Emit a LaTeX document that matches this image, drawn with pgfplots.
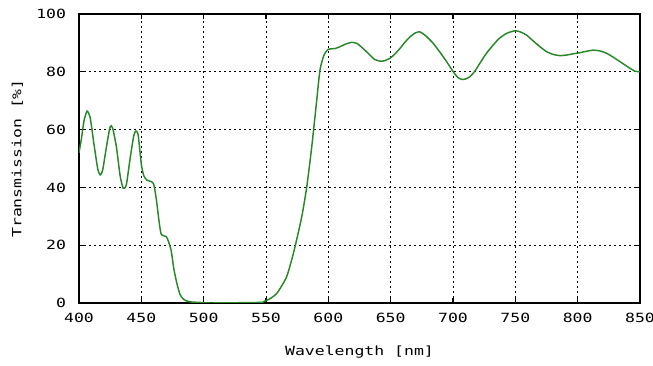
\documentclass[border=0pt]{standalone}
\usepackage{fontspec}
\setmainfont[FakeStretch=1.3]{DejaVu Sans Mono}
\usepackage{pgfplots}
\pgfplotsset{compat=1.18}
\definecolor{curve}{RGB}{40,135,40}
\begin{document}
\fontsize{9.5}{11}\selectfont
\begin{tikzpicture}
\useasboundingbox (-59.25pt,-47.25pt) rectangle (430.5pt,227.25pt);
\begin{axis}[
  at={(0,0)}, anchor=origin,
  scale only axis, width=420.75pt, height=216.75pt,
  xmin=400, xmax=850, ymin=0, ymax=100,
  xtick={400,450,...,850}, ytick={0,20,...,100},
  /pgf/number format/assume math mode=true,
  grid=major,
  major grid style={black, line width=0.65pt, dash pattern=on 1.5pt off 2.25pt},
  tick align=inside, major tick length=3.5pt,
  tick style={black, line width=0.8pt},
  axis line style={black, line width=0.9pt},
  xticklabel style={anchor=center, yshift=-11.25pt},
  yticklabel style={anchor=east, inner sep=0pt, xshift=-9.5pt},
  xlabel={Wavelength [nm]},
  ylabel={Transmission [\%]},
  x label style={at={(axis description cs:0.5,-0.17)}, anchor=center},
  y label style={at={(axis description cs:-0.11,0.5)}, anchor=center},
]
\addplot[curve, line width=1.1pt, smooth, tension=0.4] coordinates {
(400,52) (402,57) (404,63) (406.5,66.4) (409,64) (412,55) (415,46.5) (417,44.3)
(419,46) (422,54) (425,61) (427,60.5) (430,54) (433,44) (435.5,39.7) (438,41)
(441,50) (444,58) (445.7,59.5) (447.5,58) (450,48) (452,44) (454.5,42.5) (458,42)
(460,41) (462,36) (464,29) (466,23.7) (470,23) (472,21) (474,18) (476,12)
(478.5,6.8) (481,3) (484,1.2) (489,0.4) (497,0.2) (505,0) (545,0.2) (548,0.5)
(552,1.2) (555,2) (558.6,3.3) (562,5.5) (566.6,9.1) (570,14) (573.3,19.5)
(578.7,29.9) (582.7,40.2) (586.7,54.1) (590.7,70.2) (593.3,80.6) (596.5,85.8)
(600,87.8) (605,88) (609.4,88.7) (614,89.6) (618.7,90.2) (623,89.8) (628,88)
(633.4,85.8) (637,84.3) (641.4,83.7) (645,83.8) (649.5,84.7) (653,86) (657.5,88.1)
(661,90) (665.5,92.1) (670,93.5) (673.5,93.8) (678,92.5) (684.2,89.8) (690,86.5)
(694.9,83.5) (700.2,80) (704,78) (707,77.4) (710,77.5) (713.6,78.3) (718,80.5)
(721.6,83) (727,86.5) (732.3,89.3) (737,91.5) (743,93.3) (749.7,94.2) (754,93.8)
(759,92.7) (764,90.8) (769.7,88.7) (775,87) (780.4,86) (786,85.6) (791.2,85.8)
(796,86.2) (801.8,86.6) (807,87.1) (812.5,87.5) (818,87.2) (823.2,86.4) (828,85.2)
(834,83.5) (842,81.2) (846,80.2) (850,80)
};
\end{axis}
\end{tikzpicture}
\end{document}
